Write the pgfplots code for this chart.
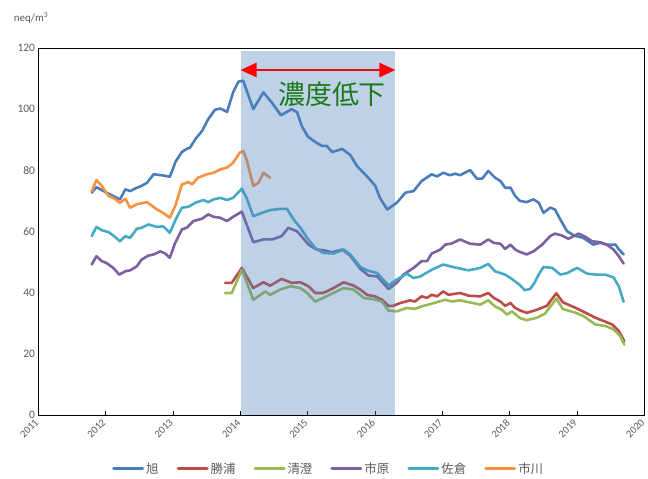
\documentclass[border=0pt]{standalone}
\usepackage{pgfplots}
\pgfplotsset{compat=1.18}
\usepackage{fontspec}
\setmainfont{Carlito}
\newfontfamily\cjk{Noto Sans CJK JP}
\usetikzlibrary{arrows.meta}
\definecolor{cAsahi}{HTML}{4A7EBB}
\definecolor{cKatsuura}{HTML}{BE4B48}
\definecolor{cKiyosumi}{HTML}{98B954}
\definecolor{cIchihara}{HTML}{7D60A0}
\definecolor{cSakura}{HTML}{46AAC5}
\definecolor{cIchikawa}{HTML}{F69240}
\definecolor{bandblue}{HTML}{4F81BD}
\definecolor{tickgray}{HTML}{595959}
\definecolor{annogreen}{HTML}{1A7A1A}
\begin{document}
\begin{tikzpicture}
\begin{axis}[
  at={(38.5bp,64bp)}, anchor=south west,
  scale only axis, width=606bp, height=367bp,
  xmin=2011, xmax=2020, ymin=0, ymax=120,
  xtick={2011,2012,...,2020}, ytick={0,20,...,120},
  xtick pos=bottom, ytick pos=left,
  tick align=inside, major tick length=4bp,
  ytick style={draw=none},
  xtick style={black, line width=0.8bp},
  axis line style={black, line width=0.8bp},
  /pgf/number format/assume math mode=true,
  yticklabel style={font=\fontsize{11.5}{13}\selectfont, text=tickgray},
  xticklabel style={rotate=45, anchor=east, xshift=-2bp, yshift=-3bp, font=\fontsize{10.5}{12}\selectfont, text=tickgray, /pgf/number format/1000 sep={}},
  every axis plot/.append style={line width=2.6bp, line join=round, line cap=round},
  legend columns=6,
  legend style={at={(0.478,-0.147)}, anchor=center, draw=none, fill=none,
    font=\cjk\fontsize{12.5}{14}\selectfont, text=tickgray,
    /tikz/every odd column/.append style={column sep=1bp},
    /tikz/every even column/.append style={column sep=17bp},
    nodes={inner sep=1bp}},
  legend image code/.code={\draw[#1, line width=3bp] (0bp,0bp) -- (29bp,0bp);},
]
% 旭
\addplot[cAsahi] coordinates {
(2011.79,72.7)(2011.86,74.5)(2012.01,72.7)(2012.11,71.6)(2012.21,70.5)(2012.29,73.8)(2012.36,73.2)(2012.43,74.0)(2012.53,74.9)(2012.61,75.9)(2012.71,78.7)(2012.83,78.4)(2012.95,77.9)(2013.04,83.0)(2013.13,86.0)(2013.20,87.0)(2013.25,87.4)(2013.33,90.2)(2013.43,92.9)(2013.52,96.7)(2013.62,99.8)(2013.70,100.2)(2013.80,99.1)(2013.89,105.5)(2013.97,109.0)(2014.04,109.3)(2014.19,100.0)(2014.34,105.5)(2014.47,102.0)(2014.60,98.0)(2014.76,100.0)(2014.84,99.0)(2014.91,94.5)(2015.00,91.0)(2015.13,89.0)(2015.21,88.0)(2015.28,88.0)(2015.36,86.0)(2015.51,87.0)(2015.63,85.0)(2015.73,81.4)(2015.88,78.0)(2016.00,75.0)(2016.07,71.0)(2016.18,67.2)(2016.32,69.4)(2016.45,72.7)(2016.57,73.2)(2016.69,76.5)(2016.84,78.7)(2016.92,78.0)(2017.01,79.2)(2017.11,78.4)(2017.19,78.9)(2017.26,78.4)(2017.41,80.1)(2017.51,77.3)(2017.59,77.3)(2017.68,79.8)(2017.78,77.6)(2017.86,76.5)(2017.93,74.3)(2018.01,74.3)(2018.08,71.6)(2018.15,70.0)(2018.25,69.6)(2018.35,70.5)(2018.43,69.4)(2018.50,66.1)(2018.60,67.8)(2018.67,67.2)(2018.75,63.9)(2018.85,60.1)(2018.95,58.7)(2019.09,57.9)(2019.24,55.7)(2019.34,56.3)(2019.44,55.7)(2019.57,55.7)(2019.62,54.1)(2019.69,52.5)
};
\addlegendentry{旭}
% 勝浦
\addplot[cKatsuura] coordinates {
(2013.77,43.2)(2013.87,43.2)(2014.02,48.1)(2014.19,41.5)(2014.34,43.4)(2014.44,42.3)(2014.61,44.5)(2014.76,43.2)(2014.89,43.4)(2015.01,42.1)(2015.11,39.9)(2015.23,39.9)(2015.38,41.5)(2015.53,43.4)(2015.68,42.3)(2015.78,41.0)(2015.88,39.3)(2016.00,38.8)(2016.10,37.7)(2016.20,35.7)(2016.27,35.7)(2016.37,36.6)(2016.52,37.5)(2016.59,37.1)(2016.69,38.8)(2016.77,38.3)(2016.84,39.3)(2016.92,38.8)(2017.01,40.4)(2017.09,39.3)(2017.26,39.9)(2017.39,39.0)(2017.56,38.8)(2017.68,39.9)(2017.76,38.3)(2017.86,37.1)(2017.93,35.7)(2018.01,36.6)(2018.08,35.0)(2018.15,34.2)(2018.25,33.4)(2018.40,34.4)(2018.55,35.7)(2018.69,39.8)(2018.79,36.8)(2018.97,35.1)(2019.12,33.5)(2019.27,31.8)(2019.42,30.5)(2019.52,29.6)(2019.62,27.4)(2019.70,24.1)
};
\addlegendentry{勝浦}
% 清澄
\addplot[cKiyosumi] coordinates {
(2013.77,39.9)(2013.87,39.9)(2014.02,47.5)(2014.19,37.7)(2014.37,40.4)(2014.44,39.3)(2014.59,41.0)(2014.74,42.1)(2014.89,41.5)(2014.99,39.9)(2015.11,37.1)(2015.23,38.3)(2015.38,39.9)(2015.53,41.5)(2015.68,41.0)(2015.83,38.3)(2015.97,37.9)(2016.10,37.1)(2016.20,34.1)(2016.32,33.9)(2016.47,35.0)(2016.59,34.7)(2016.69,35.5)(2016.87,36.6)(2017.04,37.7)(2017.14,37.1)(2017.26,37.5)(2017.41,36.8)(2017.56,36.1)(2017.68,37.5)(2017.78,35.5)(2017.88,34.4)(2017.96,32.8)(2018.03,33.9)(2018.15,31.7)(2018.25,31.0)(2018.40,31.8)(2018.52,33.1)(2018.69,38.0)(2018.79,34.6)(2018.97,33.5)(2019.09,32.4)(2019.27,29.6)(2019.42,29.1)(2019.54,28.0)(2019.64,25.8)(2019.70,23.0)
};
\addlegendentry{清澄}
% 市原
\addplot[cIchihara] coordinates {
(2011.79,49.2)(2011.86,51.9)(2011.94,50.3)(2012.01,49.7)(2012.11,48.1)(2012.20,45.9)(2012.29,47.0)(2012.36,47.3)(2012.46,48.6)(2012.53,50.8)(2012.63,52.1)(2012.71,52.5)(2012.81,53.5)(2012.88,52.8)(2012.95,51.4)(2013.03,56.3)(2013.13,60.7)(2013.20,61.2)(2013.30,63.4)(2013.43,64.2)(2013.52,65.6)(2013.60,64.8)(2013.70,64.5)(2013.80,63.4)(2013.89,64.8)(2014.02,66.5)(2014.19,56.5)(2014.34,57.4)(2014.47,57.4)(2014.61,58.5)(2014.71,61.2)(2014.84,60.1)(2015.01,55.7)(2015.13,54.1)(2015.23,53.9)(2015.36,53.2)(2015.51,54.1)(2015.63,52.1)(2015.78,47.8)(2015.90,45.6)(2016.03,45.3)(2016.20,41.2)(2016.32,43.2)(2016.42,45.9)(2016.57,48.1)(2016.69,50.3)(2016.77,50.3)(2016.84,52.8)(2016.97,54.1)(2017.04,55.7)(2017.14,56.1)(2017.26,57.4)(2017.41,56.0)(2017.56,55.7)(2017.68,57.4)(2017.76,56.3)(2017.86,56.0)(2017.93,54.3)(2018.01,55.7)(2018.08,54.1)(2018.13,53.5)(2018.25,52.5)(2018.35,53.5)(2018.48,55.7)(2018.60,58.5)(2018.67,59.3)(2018.77,58.7)(2018.87,57.6)(2019.02,59.3)(2019.12,58.3)(2019.22,56.8)(2019.34,56.5)(2019.44,55.7)(2019.54,54.1)(2019.62,51.9)(2019.69,49.5)
};
\addlegendentry{市原}
% 佐倉
\addplot[cSakura] coordinates {
(2011.79,58.5)(2011.86,61.5)(2011.94,60.4)(2012.04,59.8)(2012.11,58.7)(2012.21,56.8)(2012.29,58.5)(2012.36,57.9)(2012.46,60.9)(2012.53,61.2)(2012.63,62.3)(2012.76,61.5)(2012.85,61.7)(2012.95,59.6)(2013.05,64.5)(2013.13,67.8)(2013.23,68.1)(2013.33,69.4)(2013.45,70.3)(2013.52,69.6)(2013.60,70.5)(2013.70,71.0)(2013.80,70.3)(2013.89,71.0)(2014.02,74.0)(2014.09,71.0)(2014.19,65.0)(2014.32,66.1)(2014.44,67.0)(2014.59,67.4)(2014.69,67.4)(2014.79,63.9)(2014.89,61.2)(2014.99,57.9)(2015.11,54.6)(2015.23,53.0)(2015.38,52.8)(2015.53,54.1)(2015.63,52.5)(2015.78,48.4)(2015.88,47.3)(2016.03,46.4)(2016.20,42.3)(2016.32,44.3)(2016.47,46.2)(2016.57,44.8)(2016.67,45.3)(2016.84,47.5)(2017.01,49.2)(2017.21,48.1)(2017.39,47.3)(2017.56,48.1)(2017.68,49.4)(2017.78,47.0)(2017.93,45.9)(2018.01,44.8)(2018.15,42.5)(2018.22,40.8)(2018.30,41.2)(2018.36,43.0)(2018.43,46.0)(2018.50,48.4)(2018.63,48.1)(2018.75,45.9)(2018.85,46.4)(2019.00,48.1)(2019.15,46.2)(2019.29,45.9)(2019.42,45.9)(2019.54,45.0)(2019.62,42.0)(2019.69,37.0)
};
\addlegendentry{佐倉}
% 市川
\addplot[cIchikawa] coordinates {
(2011.79,73.2)(2011.86,76.8)(2011.94,74.9)(2012.04,71.6)(2012.11,71.0)(2012.21,69.4)(2012.29,70.7)(2012.36,67.8)(2012.46,68.9)(2012.61,69.6)(2012.76,67.2)(2012.85,66.1)(2012.95,64.5)(2013.03,68.3)(2013.13,75.4)(2013.23,76.2)(2013.28,75.4)(2013.37,77.6)(2013.50,78.7)(2013.60,79.2)(2013.70,80.3)(2013.80,80.9)(2013.89,82.5)(2013.99,85.8)(2014.04,86.3)(2014.09,83.6)(2014.19,74.9)(2014.27,76.0)(2014.34,79.2)(2014.44,77.6)
};
\addlegendentry{市川}
% shaded period
\addplot[draw=none, fill=bandblue, fill opacity=0.37, forget plot] coordinates {(2014,0)(2014,119)(2016.3,119)(2016.3,0)} -- cycle;
\draw[red, line width=2.6bp, {Triangle[length=16bp,width=14bp]}-{Triangle[length=16bp,width=14bp]}] (axis cs:2014.0,112.8) -- (axis cs:2016.3,112.8);
\node[text=annogreen, font=\cjk\fontsize{27}{30}\selectfont] at (axis cs:2015.36,104.8) {濃度低下};
\end{axis}
\node[font=\fontsize{11}{13}\selectfont, text=tickgray] at (31bp,461bp) {neq/m\textsuperscript{3}};
\pgfresetboundingbox
\useasboundingbox (0,0) rectangle (648bp,479bp);
\end{tikzpicture}
\end{document}
